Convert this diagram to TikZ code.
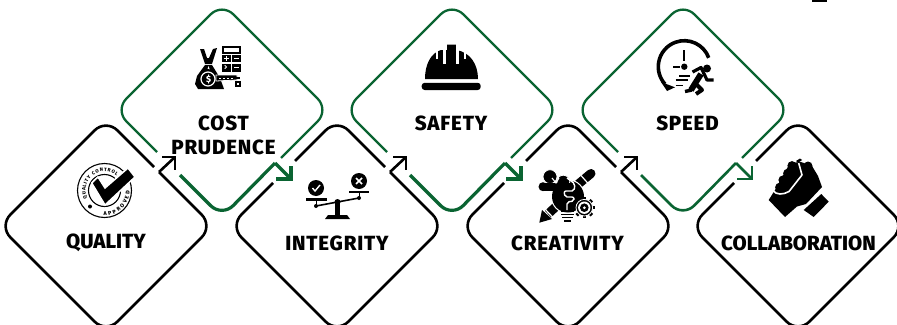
\documentclass[tikz,border=0pt]{standalone}
\usepackage{fontspec}
\setmainfont{Fira Sans}[BoldFont={Fira Sans ExtraBold}]
\usetikzlibrary{decorations.text}
\definecolor{leaf}{RGB}{10,100,50}
\tikzset{
  edgeb/.style={draw=black,line width=2.6pt,rounded corners=16pt,line join=round},
  edgeg/.style={draw=leaf,line width=2.3pt,rounded corners=16pt,line join=round},
  edgegt/.style={draw=leaf,line width=3pt,rounded corners=16pt,line join=round},
  arrowb/.style={draw=black,line width=2.6pt,miter limit=10},
  arrowg/.style={draw=leaf,line width=3pt,miter limit=10},
  label/.style={font=\bfseries\fontsize{20.5}{24}\selectfont\addfontfeature{LetterSpace=4},text=black,inner sep=0pt,align=center},
  labeltight/.style={font=\bfseries\fontsize{20.5}{24}\selectfont,text=black,inner sep=0pt,align=center},
  ink/.style={fill=black,draw=none},
  cut/.style={fill=white,draw=none},
}
% black cell: #1 name, #2 centre x, #3 1 when the upper-left edge has a gap, #4 1 when it carries the arrow
\newcommand{\blackcell}[4]{%
  \begin{scope}[shift={(#2,226)}]
    \coordinate (#1-a) at (53,-54);
    \coordinate (#1-t) at (69,-69);
    \ifnum#4=1
      \ifnum#3=1
        \draw[edgeb] (#1-a) -- (107,0) -- (0,107) -- (-107,0) -- (-64,-43);
        \draw[edgeb] (-42,-65) -- (0,-107) -- (48,-59);
      \else
        \draw[edgeb] (#1-a) -- (107,0) -- (0,107) -- (-107,0) -- (0,-107) -- (48,-59);
      \fi
      \draw[arrowb] (#1-a) -- (#1-t);
      \draw[arrowb] (56,-69) -- (#1-t) -- (69,-56);
    \else
      \draw[edgeb] (-42,-65) -- (0,-107) -- (107,0) -- (0,107) -- (-107,0) -- (-64,-43);
    \fi
  \end{scope}}
% green cell: #1 name, #2 centre x, #3 tail width
\newcommand{\greencell}[3]{%
  \begin{scope}[shift={(#2,110)}]
    \coordinate (#1-a) at (53,53);
    \coordinate (#1-t) at (69,69);
    \draw[edgeg] (59,48) -- (107,0) -- (0,-107) -- (-107,0) -- (-65,42);
    \draw[edgegt,line width=#3] (-42,65) -- (0,107) -- (#1-a);
    \draw[arrowg,line width=#3] (#1-a) -- (#1-t);
    \draw[arrowg,line width=#3] (54,69) -- (#1-t) -- (69,56);
  \end{scope}}
\begin{document}
\begin{tikzpicture}[x=1pt,y=-1pt]
\useasboundingbox (0,0) rectangle (897,324);
\clip (0,0) rectangle (897,324);
\fill[white] (0,0) rectangle (897,324);

\blackcell{quality}{106}{0}{1}
\blackcell{integrity}{337}{1}{1}
\blackcell{creativity}{568}{1}{1}
\blackcell{collab}{798}{1}{0}
\greencell{cost}{222}{3.2pt}
\greencell{safety}{452}{3.2pt}
\greencell{speed}{683}{2.6pt}

\node[label] (lcost) at (223.5,123) {COST};
\node[label] (lprud) at (223.5,147.5) {PRUDENCE};
\node[label] (lsafe) at (451,123) {SAFETY};
\node[label] (lspeed) at (687.5,123) {SPEED};
\node[labeltight] (lqual) at (106,242.5) {QUALITY};
\node[label] (linteg) at (337,243) {INTEGRITY};
\node[label] (lcreat) at (567.5,243) {CREATIVITY};
\node[labeltight] (lcollab) at (798.5,243) {COLLABORATION};

% top-right mark
\fill[black] (812,0) rectangle (827,2);

% --- quality seal
\draw[line width=1.1pt] (104.5,190.5) circle[radius=27pt];
\draw[line width=1.1pt] (104.5,190.5) circle[radius=16pt];
\path[decorate,decoration={text along path,text align={fit to path},
  text={|\fontsize{4.8}{6}\selectfont\bfseries|QUALITY CONTROL}}]
  ({104.5+19*cos(205)},{190.5-19*sin(205)}) arc[start angle=205,end angle=50,radius=19pt];
\path[decorate,decoration={text along path,text align={fit to path},
  text={|\fontsize{5.4}{6}\selectfont\bfseries|APPROVED}}]
  ({104.5+25.2*cos(268)},{190.5-25.2*sin(268)}) arc[start angle=268,end angle=358,radius=25.2pt];
\fill (90,206.5) circle[radius=2pt];
\path[fill=black,draw=white,line width=1.5pt,line join=miter]
  (91.7,183) -- (98,177) -- (105,188) -- (128,168) -- (135,177) -- (105,205) -- cycle;

% --- cost icon
\begin{scope}
  \fill[ink] (222,46) rectangle (241,72);
  \fill[cut] (224,48) rectangle (239,52);
  \fill[cut] (222,54) rectangle (241,55);
  \fill[cut] (230.8,54) rectangle (232.2,72);
  \fill[cut] (222,62) rectangle (241,63.5);
  \fill[cut] (224,58) rectangle (229,59.2);
  \fill[cut] (226,56) rectangle (227.2,61);
  \fill[cut] (234,58) rectangle (239,59.4);
  \fill[cut] (225,65) -- (227,67) -- (225,69) -- (224.3,68.2) -- (226.1,67) -- (224.3,65.7) -- cycle;
  \fill[cut] (234,67) rectangle (239,68);
  \fill[ink] (200,49) -- (204,49) -- (207,58) -- (209,58) -- (213,49) -- (217,48) -- (212,64) -- (205,64) -- cycle;
  \fill[ink] (205,65) -- (212,65) -- (220,78) -- (224,89) -- (198,89) -- (195,84) -- (197,76) -- cycle;
  \fill[cut] (208.5,66) -- (210.5,72) -- (206.5,72) -- cycle;
  \fill[ink] (208,79) circle[radius=10pt];
  \draw[white,line width=1.2pt] (208,79) circle[radius=7pt];
  \node[text=white,font=\bfseries\fontsize{9}{9}\selectfont,inner sep=0pt] (dollar) at (208.5,79) {\$};
  \path[fill=black,draw=white,line width=.8pt] (216,75) -- (237,75) -- (237,80) -- (216,81) -- cycle;
  \draw[white,line width=1pt,dash pattern=on 2pt off 2pt] (219,78) -- (233,78);
  \fill[ink] (235,80.5) rectangle (241,86.5);
  \fill[cut] (236.8,82.5) rectangle (239.2,84.5);
  \fill[ink] (236,76.5) rectangle (240,79);
\end{scope}

% --- helmet
\fill[ink] (425,79) .. controls (425,64) and (431,53) .. (441,50) -- (447,50) -- (447,44.5) -- (456,44.5) -- (456,50)
  .. controls (470,52) and (478,64) .. (478,79) -- cycle;
\fill[cut] (443,48) rectangle (446,64);
\fill[cut] (456,44) rectangle (459,64);
\fill[cut] (436,50) rectangle (437.5,59);
\fill[cut] (464,50) rectangle (465.5,59);
\fill[ink,rounded corners=3pt] (421.7,82.8) rectangle (480.7,90);

% --- scales
\fill[ink] (316,188) circle[radius=8pt];
\fill[ink] (359,181) circle[radius=8pt];
\draw[white,line width=1.4pt] (312.5,188) -- (315,191) -- (320,185);
\draw[white,line width=1.6pt] (356,178) -- (362,184) (356,184) -- (362,178);
\fill[ink] (306,198) rectangle (327,201);
\fill[ink] (349,190.5) rectangle (369,193);
\draw[line width=1.6pt] (316,206) -- (359,198);
\draw[line width=1pt] (316,201) -- (316,206) (359,193) -- (359,198);
\fill (316,206) circle[radius=2pt];
\fill (359,198) circle[radius=2pt];
\fill (337.5,202) circle[radius=3pt];
\fill[ink] (335,203) rectangle (340,215);
\fill[ink] (328,215) -- (347,215) -- (350,219) -- (325,219) -- cycle;

% --- creativity
\draw[line width=9pt] (548,214) -- (561,202);
\fill[ink] (539.3,222.7) -- (542,210) -- (552,219) -- cycle;
\draw[line width=1.2pt,white] (544.5,208.5) -- (553.5,218);
\draw[line width=9pt,line cap=round] (576,186) -- (591,173.5);
\draw[line width=1.2pt,white] (581,175.5) -- (589,184.5);
\draw[white,line width=1.4pt] (568,196.5) circle[radius=16.5pt];
\fill[ink] (568,196.5) circle[radius=16pt];
\fill[ink] (561,205) rectangle (574,212);
\draw[line width=1.4pt] (561,214.5) -- (574,214.5) (562,217.5) -- (573,217.5);
\draw[line width=1.4pt] (564,220.8) -- (571,220.8);
\path[fill=black,draw=white,line width=.8pt] (550,176.7) circle[radius=7pt];
\path[fill=black,draw=white,line width=.8pt] (563.3,181.7) circle[radius=6.5pt];
\fill[ink] (543,186.7) circle[radius=4.5pt];
\fill[ink] (543,183) rectangle (570,190.5);
\draw[white,line width=1.1pt] (552,178) -- (556,183) -- (559,178);
\draw[white,line width=1.4pt,rounded corners=2pt] (567,178) -- (575,184) -- (574,191) -- (564,191) -- (565,197) -- (574,197) -- (574,201) -- (567,202) -- (567,210);
\foreach \a in {0,45,...,315}{\fill[rotate around={\a:(584.3,207.7)}] (582.6,197) rectangle (586,200.5);}
\path[fill=black,draw=white,line width=.8pt] (584.3,207.7) circle[radius=8.3pt];
\fill[white] (584.3,207.7) circle[radius=6.2pt];
\fill (584.3,207.7) circle[radius=4.3pt];
\fill[white] (584.3,207.7) circle[radius=1.5pt];

% --- speed
\draw[line width=3.6pt] ({684.3+26*cos(20)},{66.7-26*sin(20)}) arc[start angle=20,end angle=222,radius=26pt];
\fill[ink] (661,82) -- (675,87.3) -- (667,91) -- cycle;
\draw[line width=1.8pt] (684.3,50) -- (684.3,60.5);
\draw[line width=2.4pt] (673,66.7) -- (679.5,66.7);
\fill (684.3,66.7) circle[radius=3.2pt];
\draw[line width=1.3pt] (679,76) -- (690,76) (675.5,80) -- (688,80) (675.5,85.7) -- (683,85.7);
\fill (707,68.5) circle[radius=4pt];
\draw[line width=6pt,line join=round] (701,74) -- (691,90);
\draw[line width=4pt,line join=round] (697,85) -- (702,90) -- (696,94);
\draw[line width=3.2pt,line join=round] (692.5,72) -- (701,67.5) -- (707,80) -- (713.5,80);
\draw[line width=3.4pt,line join=round] (692,90) -- (685,91.5);

% --- fist
\fill[ink] (768.7,200) -- (785,217) -- (797,206.5) -- (806,204) -- (822,187) -- (818,176) -- (812,166) -- (801,162) -- (790,163) -- (775,190) -- cycle;
\fill[ink] (803.7,210) -- (813.7,217) -- (828.7,201.7) -- (821.3,194) -- cycle;
\foreach \p in {(779.7,187.3),(783,180),(787.7,173.3),(792,165.7)}{\fill[black] \p circle[radius=4.6pt];}
\draw[white,line width=1.6pt,line join=round] (773,190.5) .. controls (776,195) and (783,195) .. (789,191.5) -- (802,175) -- (798.7,163);
\fill (808,166) circle[radius=4.5pt];
\fill[ink] (796,161) -- (800,158.5) -- (802,160) -- (798,163) -- cycle;
\end{tikzpicture}
\end{document}
